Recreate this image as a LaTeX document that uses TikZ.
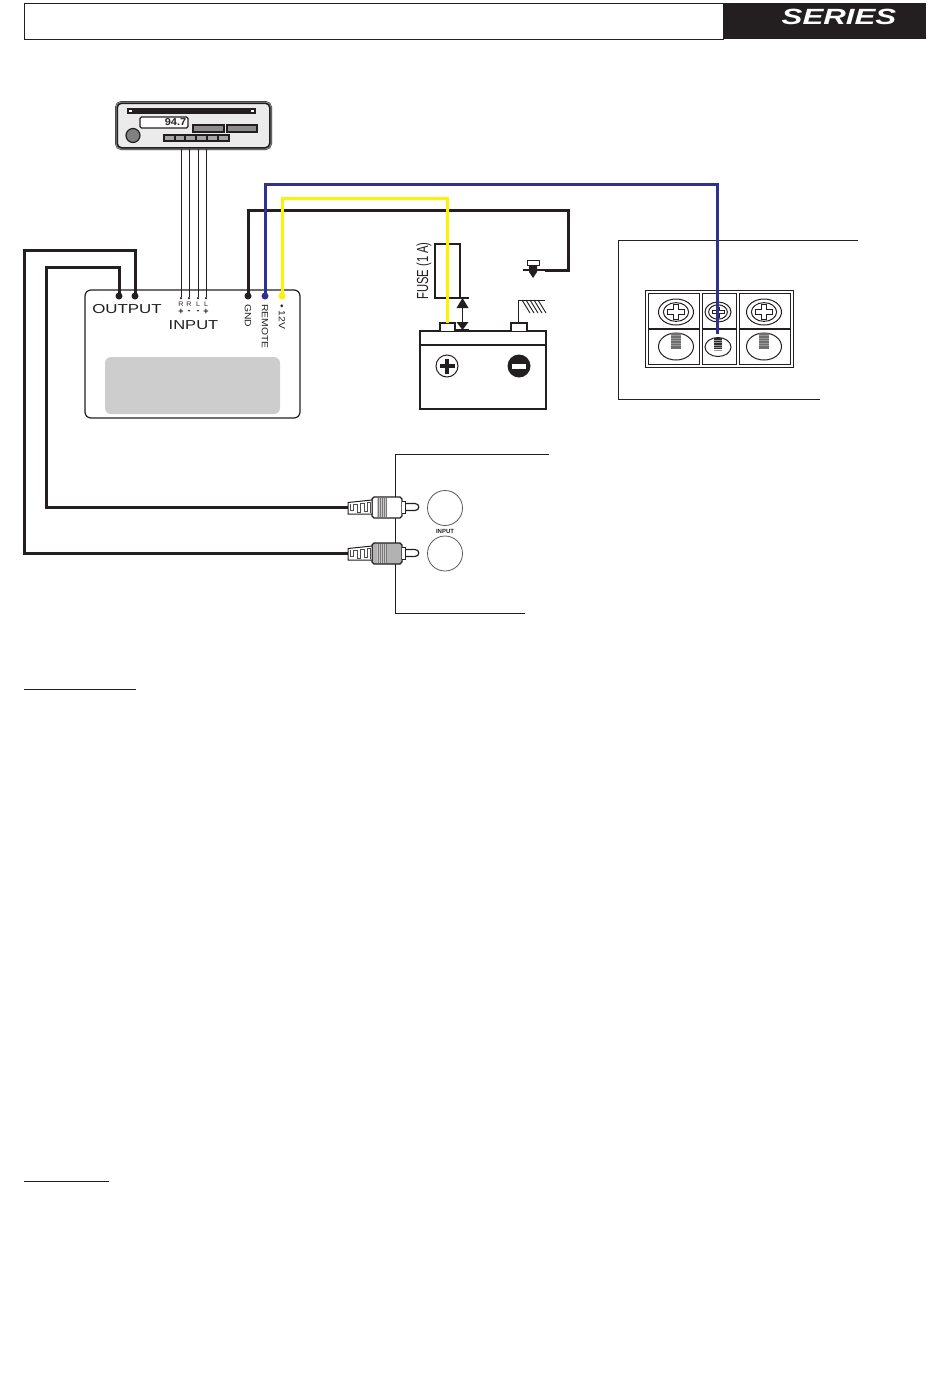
\documentclass[tikz,border=0pt]{standalone}
\usepackage{fontspec}
\setmainfont{Liberation Sans}
\definecolor{ink}{HTML}{231F20}
\definecolor{wireblue}{HTML}{2E3192}
\definecolor{wireyellow}{HTML}{FFF200}
\definecolor{panel}{HTML}{CDCDCD}
\tikzset{
 px/.style={x=1pt,y=-1pt},
 thin line/.style={draw=ink,line width=1pt},
 wire/.style={draw=ink,line width=3pt,line join=miter},
 bluewire/.style={draw=wireblue,line width=3pt},
 yellowwire/.style={draw=wireyellow,line width=3pt},
 signal/.style={draw=ink,line width=.6pt},
 lab/.style={inner sep=0pt,text=ink},
 termdot/.style={circle,inner sep=0pt,minimum size=7pt},
 bigscrew/.style={draw=ink,line width=1pt},
}
\newcommand{\plusmark}[3]{% x y size
  \fill[ink] (#1-#3,#2-#3*.3) rectangle (#1+#3,#2+#3*.3);
  \fill[ink] (#1-#3*.3,#2-#3) rectangle (#1+#3*.3,#2+#3);
}
\newcommand{\screwhead}[5]{% x y rx ry size
  \draw[bigscrew,fill=white] (#1,#2) ellipse ({#3} and {#4});
  \draw[bigscrew,fill=white] (#1,#2) ellipse ({#3*.72} and {#4*.72});
  \draw[ink,line width=.8pt,fill=white] (#1-#5,#2-#5*.3) -- (#1-#5*.3,#2-#5*.3) -- (#1-#5*.3,#2-#5*.85) -- (#1+#5*.3,#2-#5*.85) -- (#1+#5*.3,#2-#5*.3) -- (#1+#5,#2-#5*.3) -- (#1+#5,#2+#5*.3) -- (#1+#5*.3,#2+#5*.3) -- (#1+#5*.3,#2+#5*.85) -- (#1-#5*.3,#2+#5*.85) -- (#1-#5*.3,#2+#5*.3) -- (#1-#5,#2+#5*.3) -- cycle;
}
\newcommand{\coil}[6]{% x y rx ry halfwidth shade
  \draw[bigscrew,fill=white] (#1,#2) ellipse ({#3} and {#4});
  \fill[ink!#6] (#1-#5,#2-#4) rectangle (#1+#5,#2+2);
  \foreach \k in {1,2,3,4,5}{\draw[black!40,line width=.35pt] (#1-#5,#2-#4+\k*2.5) -- (#1+#5,#2-#4+\k*2.5);}
}
\newcommand{\rcaplug}[2]{% y bodyfill
  \begin{scope}[yshift=-#1pt]
  \draw[thin line,line width=1.2pt,fill=white] (405,-3.5) -- (415,-3.5) .. controls (420,-3.5) and (420,3.5) .. (415,3.5) -- (405,3.5) -- cycle;
  \draw[thin line,line width=1.3pt,fill=#2] (372,-8) -- (374,-10) -- (400,-10) -- (402,-8) -- (402,9) -- (400,11) -- (374,11) -- (372,9) -- cycle;
  \draw[thin line,fill=white] (402,-6) -- (405,-6) -- (405,6) -- (402,6);
  \fill[ink!25] (377,-9.4) rectangle (386,10.4);
  \foreach \u in {378,380,382,384,386}{\draw[ink!60,line width=.4pt] (\u,-9.4) -- (\u,10.4);}
  \draw[thin line,fill=white] (348,-4.5) -- (372,-7) -- (372,7) -- (348,7) -- cycle;
  \draw[ink!80,line width=.7pt] (350,-3) -- (350,3) -- (353,3) -- (353,-3) -- (357,-3) -- (357,5) -- (360,5) -- (360,-4) -- (364,-4) -- (364,4) -- (367,4) -- (367,-5) -- (370,-5) -- (370,6);
  \end{scope}
}
\begin{document}
\begin{tikzpicture}[px]
\useasboundingbox (0,0) rectangle (950,1374);
% header
\draw[thin line] (24,3) rectangle (723,39);
\fill[ink] (723,3) rectangle (926,39);
\node[lab,text=white] (logo) at (839,17) {\scalebox{1.42}[1]{\fontsize{22}{22}\selectfont\bfseries\itshape SERIES}};
% head unit
\draw[draw=ink,line width=3pt,fill=black!8,rounded corners=5pt] (116.5,102.5) rectangle (270.5,148.5);
\draw[draw=black!45,line width=1pt,rounded corners=5pt] (116,102) rectangle (271,149);
\fill[ink] (127,108) rectangle (256,114);
\fill[white] (129,110) rectangle (132,112);
\fill[white] (251,110) rectangle (254,112);
\draw[ink,line width=1.2pt,fill=white,rounded corners=1.5pt] (140,117) rectangle (188,128);
\node[lab] (freq) at (175.5,122.5) {\scalebox{1.1}[1]{\fontsize{10}{10}\selectfont\bfseries 94.7}};
\draw[ink,line width=1.4pt,fill=black!45] (193,125) rectangle (224,132);
\draw[ink,line width=1.4pt,fill=black!45] (227,125) rectangle (257,132);
\draw[ink,line width=1.2pt,fill=black!50] (133,135.5) circle (7);
\fill[ink] (163,134) rectangle (230,142);
\foreach \u in {165,175.5,186,197,208,219}{\fill[black!35] (\u,136) rectangle (\u+8.5,139.5);}
\coordinate (hA) at (181,149); \coordinate (hB) at (189,149);
\coordinate (hC) at (198,149); \coordinate (hD) at (206,149);
% amp
\draw[ink,line width=1.2pt,rounded corners=6pt] (85,290) rectangle (300,418);
\fill[panel,rounded corners=6pt] (105,357) rectangle (280,414);
\node[termdot,fill=ink] (outB) at (119,296) {};
\node[termdot,fill=ink] (outA) at (135,296) {};
\node[termdot,fill=ink] (gnd) at (248,296) {};
\node[termdot,fill=wireblue] (rem) at (265,296) {};
\node[termdot,fill=wireyellow] (pwr) at (282,296) {};
\node[lab] (outtxt) at (127,309) {\scalebox{1.3}[1]{\fontsize{13}{13}\selectfont OUTPUT}};
\node[lab] (intxt) at (193.5,325.5) {\scalebox{1.27}[1]{\fontsize{13}{13}\selectfont INPUT}};
\foreach \u/\t/\s [count=\i] in {181/R/+,189/R/-,198/L/-,206/L/+}{
  \node[circle,fill=ink,inner sep=0pt,minimum size=2.5pt] (in\i) at (\u,298) {};
  \node[lab] (inl\i) at (\u,304.5) {\scalebox{1.1}[1]{\fontsize{6.5}{6.5}\selectfont \t}};
  \node[lab] (ins\i) at (\u,312) {\fontsize{9}{9}\selectfont\bfseries \s};
}
\foreach \i/\j in {1/hA,2/hB,3/hC,4/hD}{\draw[signal] (\j) -- (in\i);}
\node[lab,rotate=-90,anchor=west] (gndt) at (248,304) {\scalebox{1.15}[1]{\fontsize{9}{9}\selectfont GND}};
\node[lab,rotate=-90,anchor=west] (remt) at (265,304) {\scalebox{1.15}[1]{\fontsize{9}{9}\selectfont REMOTE}};
\node[lab,rotate=-90,anchor=west] (pwrt) at (282,304) {\scalebox{1.15}[1]{\fontsize{9}{9}\selectfont • 12V}};
% battery
\draw[ink,line width=1.6pt] (420,331) rectangle (546,409);
\draw[ink,line width=1.6pt] (420,345) -- (546,345);
\draw[ink,line width=1.4pt,fill=white] (440,331) -- (440,323) -- (455,323) -- (455,331);
\draw[ink,line width=1.4pt,fill=white] (511,331) -- (511,323) -- (527,323) -- (527,331);
\coordinate (posT) at (447,323);
\coordinate (negT) at (518,323);
\draw[ink,line width=1pt] (447,366) circle (11);
\plusmark{447}{366}{7.5}
\fill[ink] (519,366) circle (11.5);
\fill[white] (512,363.5) rectangle (526,368.5);
% ground
\coordinate (gndA) at (518,300);
\coordinate (gndB) at (545,300);
\draw[ink,line width=.8pt] (negT) -- (gndA) -- (gndB);
\foreach \u in {522,526,530,534,538}{\draw[ink,line width=.9pt] (\u,300) -- (\u+8,313);}
% fuse
\draw[ink,line width=1.3pt] (435,244) rectangle (460,298);
\draw[ink,line width=1.3pt] (455,298) -- (469,298);
\draw[ink,line width=1.3pt] (456,330) -- (469,330);
\draw[ink,line width=1pt] (462.5,298) -- (462.5,330);
\fill[ink] (462.5,298) -- (468.5,308) -- (456.5,308) -- cycle;
\fill[ink] (462.5,330) -- (468.5,322) -- (456.5,322) -- cycle;
\node[lab,rotate=90] (fuse) at (424,271) {\scalebox{.7}[1]{\fontsize{16}{16}\selectfont FUSE (1 A)}};
% chassis bolt
\draw[ink,line width=1pt,fill=white] (527,260) rectangle (539,265);
\fill[ink] (529,265) -- (537,265) -- (537,272) -- (533,278) -- (529,272) -- cycle;
\draw[ink,line width=1.8pt] (523,270) -- (545,270);
\coordinate (boltT) at (545,270);
% wires
\coordinate (g1) at (248,210); \coordinate (g2) at (568,210); \coordinate (g3) at (568,270);
\draw[wire] (gnd.center) -- (g1) -- (g2) -- (g3) -- (boltT);
\coordinate (b1) at (265,184); \coordinate (b2) at (717,184); \coordinate (b3) at (717,334);
\coordinate (y1) at (282,198); \coordinate (y2) at (447,198);
% terminal box
\draw[thin line] (858,240) -- (618,240) -- (618,399) -- (820,399);
\draw[ink,line width=.9pt] (645,290) rectangle (793,367);
\foreach \a/\b in {648/699,702/736,739/790}{\draw[ink,line width=.9pt] (\a,293) rectangle (\b,364.5);}
\draw[ink,line width=1.5pt] (648,329) -- (699,329) (702,329) -- (736,329) (739,329) -- (790,329);
\screwhead{676}{312}{17.5}{13}{8.5}
\screwhead{718}{312}{13}{10}{6}
\screwhead{764}{312}{17.5}{13}{8.5}
\coil{676}{346.5}{17.5}{13.5}{5}{65}
\coil{718}{347}{13}{9.5}{4}{95}
\coil{764}{346.5}{17.5}{13.5}{5}{65}
\draw[bluewire] (rem.center) -- (b1) -- (b2) -- (b3);
\draw[yellowwire] (pwr.center) -- (y1) -- (y2) -- (posT);
% rca box
\draw[thin line] (549,454) -- (395,454) -- (395,613) -- (525,613);
\node[circle,draw=black!65,line width=.8pt,minimum size=35pt,inner sep=0pt] (jackA) at (445,508) {};
\node[circle,draw=black!65,line width=.8pt,minimum size=35pt,inner sep=0pt] (jackB) at (445,553.5) {};
\node[lab] (jacktxt) at (445,531) {\fontsize{6}{6}\selectfont\bfseries INPUT};
\coordinate (plugA) at (350,507);
\coordinate (plugB) at (350,553);
\coordinate (o1) at (119,267); \coordinate (o2) at (46,267); \coordinate (o3) at (46,507);
\coordinate (p1) at (135,250); \coordinate (p2) at (24,250); \coordinate (p3) at (24,553);
\draw[wire] (outB.center) -- (o1) -- (o2) -- (o3) -- (plugA);
\draw[wire] (outA.center) -- (p1) -- (p2) -- (p3) -- (plugB);
\rcaplug{507}{white}
\rcaplug{553}{black!30}
% rules
\draw[ink,line width=1pt] (24,689) -- (136,689);
\draw[ink,line width=1pt] (24,1181) -- (109,1181);
\end{tikzpicture}
\end{document}
